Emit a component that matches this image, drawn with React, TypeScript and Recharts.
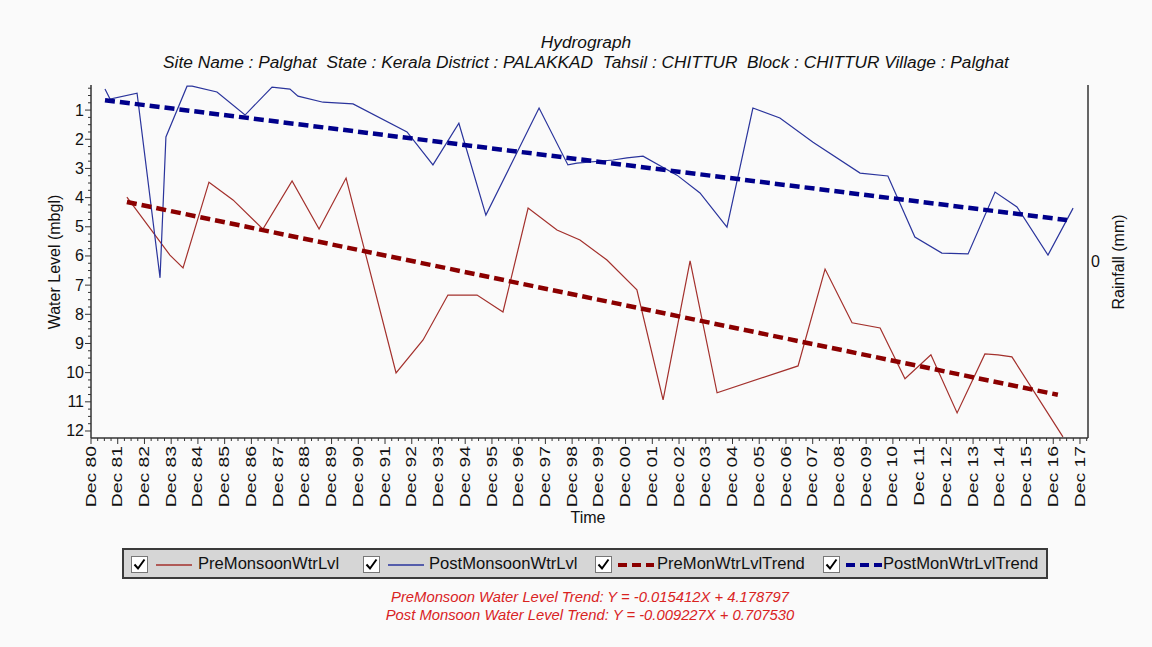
import React from 'react';
import { LineChart, Line, XAxis, YAxis } from 'recharts';

// x = decimal year (Dec 80 = 1980.917), y = water level in m below ground
const PRE_YEARS = [
  1982.26, 1983.87, 1984.36, 1985.33, 1986.23, 1987.35, 1988.44, 1989.45, 1990.46,
  1992.33, 1993.34, 1994.27, 1995.36, 1996.33, 1997.27, 1998.35, 1999.21, 2000.22,
  2001.34, 2002.32, 2003.33, 2004.34, 2007.37, 2008.38, 2009.39, 2010.44, 2011.37,
  2012.34, 2013.32, 2014.36, 2014.85, 2015.37, 2017.28,
];
const PRE_LEVELS = [
  3.98, 5.97, 6.41, 3.47, 4.08, 5.08, 3.43, 5.08, 3.33,
  10.01, 8.88, 7.34, 7.34, 7.92, 4.36, 5.11, 5.45, 6.14,
  7.16, 10.93, 6.17, 10.69, 9.77, 6.45, 8.29, 8.47, 10.21,
  9.39, 11.38, 9.36, 9.39, 9.46, 12.2,
];

const POST_YEARS = [
  1981.44, 1981.63, 1982.64, 1983.5, 1983.72, 1984.51, 1984.7, 1985.63, 1986.68,
  1987.69, 1988.36, 1988.66, 1989.6, 1990.72, 1992.74, 1993.71, 1994.68, 1995.69,
  1997.68, 1998.76, 1999.1, 2000.45, 2000.97, 2001.57, 2002.84, 2003.7, 2004.71,
  2005.68, 2006.69, 2007.93, 2009.69, 2010.73, 2011.74, 2012.75, 2013.73, 2014.74,
  2015.56, 2016.72, 2017.66,
];
const POST_LEVELS = [
  0.28, 0.62, 0.42, 6.75, 1.92, 0.18, 0.18, 0.38, 1.17,
  0.21, 0.28, 0.52, 0.73, 0.79, 1.75, 2.88, 1.45, 4.6,
  0.93, 2.88, 2.82, 2.71, 2.64, 2.58, 3.23, 3.84, 5.01,
  0.93, 1.27, 2.1, 3.16, 3.26, 5.35, 5.9, 5.93, 3.81,
  4.32, 5.97, 4.36,
];

const PRE_TREND_YEARS = [1982.26, 2017.09];
const PRE_TREND_LEVELS = [4.15, 10.76];
const POST_TREND_YEARS = [1981.44, 2017.43];
const POST_TREND_LEVELS = [0.66, 4.77];

const X_LABELS = [
  'Dec 80', 'Dec 81', 'Dec 82', 'Dec 83', 'Dec 84', 'Dec 85', 'Dec 86', 'Dec 87',
  'Dec 88', 'Dec 89', 'Dec 90', 'Dec 91', 'Dec 92', 'Dec 93', 'Dec 94', 'Dec 95',
  'Dec 96', 'Dec 97', 'Dec 98', 'Dec 99', 'Dec 00', 'Dec 01', 'Dec 02', 'Dec 03',
  'Dec 04', 'Dec 05', 'Dec 06', 'Dec 07', 'Dec 08', 'Dec 09', 'Dec 10', 'Dec 11',
  'Dec 12', 'Dec 13', 'Dec 14', 'Dec 15', 'Dec 16', 'Dec 17',
];
const Y_LABELS = [1, 2, 3, 4, 5, 6, 7, 8, 9, 10, 11, 12];
const RAINFALL_LABELS = ['0'];

const PRE_EQUATION = 'PreMonsoon Water Level Trend: Y = -0.015412X + 4.178797';
const POST_EQUATION = 'Post Monsoon Water Level Trend: Y = -0.009227X + 0.707530';

const X0 = 1980.917;
const X_MAX = 2018.217;
const Y_MIN = 0.14;
const Y_MAX = 12.24;

const FONT = "'Liberation Sans', Arial, sans-serif";
const AXIS = '#333';
const PRE_COLOR = '#a3302c';
const POST_COLOR = '#2a349c';
const PRE_TREND_COLOR = '#8b0000';
const POST_TREND_COLOR = '#00008b';

const toRows = (xs: number[], ys: number[]) => xs.map((x, i) => ({ x, y: ys[i] }));

// quarter-year minor ticks, every 4th one is a labelled Dec tick
const xTicks: number[] = [];
for (let k = 0; X0 + k * 0.25 <= X_MAX; k++) xTicks.push(X0 + k * 0.25);
const yTicks: number[] = [];
for (let k = 1; k * 0.25 <= Y_MAX; k++) if (k * 0.25 >= Y_MIN) yTicks.push(k * 0.25);

const BottomTick = (props: any) => {
  const { x, y, payload } = props;
  const k = Math.round((payload.value - X0) * 4);
  const major = k % 4 === 0;
  return (
    <g>
      <line x1={x} x2={x} y1={y} y2={y + (major ? 6 : 3)} stroke={AXIS} />
      {major && (
        <text
          transform={`translate(${x},${y + 8}) rotate(-90) scale(1.38,1)`}
          textAnchor="end"
          dominantBaseline="central"
          fontSize={14}
          fontFamily={FONT}
          fill="#111"
        >
          {X_LABELS[k / 4]}
        </text>
      )}
    </g>
  );
};

const LeftTick = (props: any) => {
  const { x, y, payload } = props;
  const v = payload.value;
  const major = Math.abs(v - Math.round(v)) < 1e-6;
  return (
    <g>
      <line x1={x} x2={x - (major ? 6 : 3)} y1={y} y2={y} stroke={AXIS} />
      {major && Y_LABELS.includes(Math.round(v)) && (
        <text x={x - 7} y={y} textAnchor="end" dominantBaseline="central" fontSize={16} fontFamily={FONT} fill="#111">
          {Math.round(v)}
        </text>
      )}
    </g>
  );
};

const CheckBox = ({ left }: { left: number }) => (
  <svg width={17} height={17} style={{ position: 'absolute', left, top: 6 }}>
    <rect x={0.5} y={0.5} width={16} height={16} fill="#fff" stroke="#777" />
    <path d="M3.5 8.5 L7 12.5 L13.5 3.5" stroke="#000" strokeWidth={2} fill="none" />
  </svg>
);

const Sample = ({ left, color, dashed }: { left: number; color: string; dashed?: boolean }) => (
  <svg width={36} height={8} style={{ position: 'absolute', left, top: 11 }}>
    <line
      x1={0}
      x2={36}
      y1={4}
      y2={4}
      stroke={color}
      strokeWidth={dashed ? 4 : 1.5}
      strokeDasharray={dashed ? '9 5' : undefined}
    />
  </svg>
);

const legendItems = [
  { name: 'PreMonsoonWtrLvl', color: PRE_COLOR, dashed: false, box: 7, line: 32, text: 74 },
  { name: 'PostMonsoonWtrLvl', color: POST_COLOR, dashed: false, box: 239, line: 264, text: 305 },
  { name: 'PreMonWtrLvlTrend', color: PRE_TREND_COLOR, dashed: true, box: 471, line: 494, text: 533 },
  { name: 'PostMonWtrLvlTrend', color: POST_TREND_COLOR, dashed: true, box: 699, line: 722, text: 759 },
];

export default function App() {
  const text = (extra: React.CSSProperties): React.CSSProperties => ({
    position: 'absolute',
    fontFamily: FONT,
    whiteSpace: 'nowrap',
    lineHeight: 1,
    ...extra,
  });

  return (
    <div style={{ position: 'absolute', left: 0, top: 0, width: 1152, height: 647, background: '#fafafa', overflow: 'hidden' }}>
      <div style={text({ left: 0, width: 1172, top: 34, textAlign: 'center', fontSize: 17.3, fontStyle: 'italic', color: '#111' })}>
        Hydrograph
      </div>
      <div style={text({ left: 0, width: 1172, top: 54, textAlign: 'center', fontSize: 17.3, fontStyle: 'italic', color: '#111' })}>
        Site Name : Palghat&nbsp; State : Kerala District : PALAKKAD&nbsp; Tahsil : CHITTUR&nbsp; Block : CHITTUR Village : Palghat
      </div>

      <LineChart
        width={1152}
        height={647}
        margin={{ top: 85, right: 24, bottom: 129, left: 51 }}
        style={{ position: 'absolute', left: 0, top: 0 }}
      >
        <XAxis
          dataKey="x"
          type="number"
          domain={[X0, X_MAX]}
          allowDataOverflow
          ticks={xTicks}
          interval={0}
          tick={<BottomTick />}
          tickLine={false}
          tickSize={0}
          tickMargin={0}
          height={80}
          axisLine={{ stroke: AXIS, strokeWidth: 1.5 }}
        />
        <XAxis
          xAxisId="top"
          orientation="top"
          type="number"
          domain={[X0, X_MAX]}
          tick={false}
          tickLine={false}
          height={0}
          axisLine={{ stroke: AXIS, strokeWidth: 1.5 }}
        />
        <YAxis
          yAxisId="left"
          type="number"
          reversed
          domain={[Y_MIN, Y_MAX]}
          allowDataOverflow
          ticks={yTicks}
          interval={0}
          tick={<LeftTick />}
          tickLine={false}
          tickSize={0}
          tickMargin={0}
          width={40}
          axisLine={{ stroke: AXIS, strokeWidth: 1.5 }}
        />
        <YAxis
          yAxisId="right"
          orientation="right"
          type="number"
          domain={[-1, 1]}
          tick={false}
          tickLine={false}
          width={40}
          axisLine={{ stroke: AXIS, strokeWidth: 1.5 }}
        />
        <Line
          yAxisId="left"
          data={toRows(PRE_YEARS, PRE_LEVELS)}
          dataKey="y"
          name="PreMonsoonWtrLvl"
          stroke={PRE_COLOR}
          strokeWidth={1.2}
          dot={false}
          isAnimationActive={false}
        />
        <Line
          yAxisId="left"
          data={toRows(POST_YEARS, POST_LEVELS)}
          dataKey="y"
          name="PostMonsoonWtrLvl"
          stroke={POST_COLOR}
          strokeWidth={1.2}
          dot={false}
          isAnimationActive={false}
        />
        <Line
          yAxisId="left"
          data={toRows(PRE_TREND_YEARS, PRE_TREND_LEVELS)}
          dataKey="y"
          name="PreMonWtrLvlTrend"
          stroke={PRE_TREND_COLOR}
          strokeWidth={4.5}
          strokeDasharray="10 5"
          dot={false}
          isAnimationActive={false}
        />
        <Line
          yAxisId="left"
          data={toRows(POST_TREND_YEARS, POST_TREND_LEVELS)}
          dataKey="y"
          name="PostMonWtrLvlTrend"
          stroke={POST_TREND_COLOR}
          strokeWidth={4.5}
          strokeDasharray="10 5"
          dot={false}
          isAnimationActive={false}
        />
      </LineChart>

      <div style={text({ left: 55, top: 262, fontSize: 16, color: '#111', transform: 'translate(-50%,-50%) rotate(-90deg)' })}>
        Water Level (mbgl)
      </div>
      <div style={text({ left: 1091, top: 254, fontSize: 16, color: '#111' })}>{RAINFALL_LABELS[0]}</div>
      <div style={text({ left: 1119, top: 262, fontSize: 16, color: '#111', transform: 'translate(-50%,-50%) rotate(-90deg)' })}>
        Rainfall (mm)
      </div>
      <div style={text({ left: 0, width: 1176, top: 510, textAlign: 'center', fontSize: 16, color: '#111' })}>Time</div>

      <div
        style={{
          position: 'absolute',
          left: 122,
          top: 548,
          width: 926,
          height: 31,
          boxSizing: 'border-box',
          background: '#d6d6d6',
          border: '2px solid #3a3a3a',
        }}
      >
        {legendItems.map((it) => (
          <React.Fragment key={it.name}>
            <CheckBox left={it.box} />
            <Sample left={it.line} color={it.color} dashed={it.dashed} />
            <div style={text({ left: it.text, top: 6, fontSize: 16.6, color: '#111' })}>{it.name}</div>
          </React.Fragment>
        ))}
      </div>

      <div style={text({ left: 0, width: 1180, top: 590, textAlign: 'center', fontSize: 14.8, fontStyle: 'italic', color: '#d9231f' })}>
        {PRE_EQUATION}
      </div>
      <div style={text({ left: 0, width: 1180, top: 608, textAlign: 'center', fontSize: 14.8, fontStyle: 'italic', color: '#d9231f' })}>
        {POST_EQUATION}
      </div>
    </div>
  );
}
